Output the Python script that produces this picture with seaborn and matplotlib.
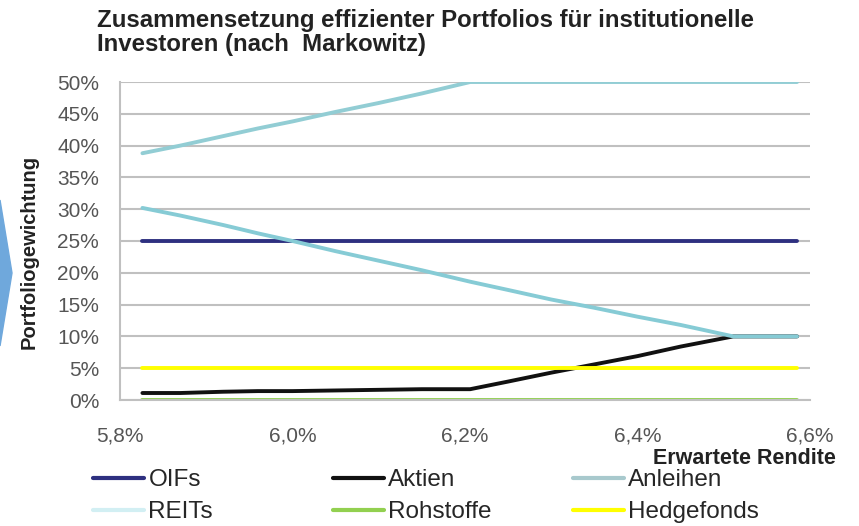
import numpy as np
import pandas as pd
import seaborn as sns
import matplotlib.pyplot as plt
from matplotlib.lines import Line2D
from matplotlib.patches import Polygon

# Data (expected return in %, weights in %)
rendite = [5.826, 5.87, 5.92, 5.96, 6.00, 6.05, 6.10, 6.15, 6.206,
           6.25, 6.30, 6.35, 6.40, 6.45, 6.511, 6.55, 6.585]
oifs = [25] * 17
aktien = [1.1, 1.1, 1.3, 1.4, 1.4, 1.5, 1.6, 1.7, 1.7,
          2.9, 4.3, 5.6, 6.9, 8.4, 10.0, 10.0, 10.0]
anleihen = [38.8, 40.0, 41.5, 42.7, 43.8, 45.3, 46.7, 48.2, 50.0,
            50.0, 50.0, 50.0, 50.0, 50.0, 50.0, 50.0, 50.0]
reits = [30.2, 29.0, 27.5, 26.2, 25.0, 23.4, 21.9, 20.4, 18.6,
         17.3, 15.8, 14.5, 13.1, 11.8, 10.0, 10.0, 10.0]
rohstoffe = [0] * 17
hedgefonds = [5] * 17

series = {"OIFs": oifs, "Aktien": aktien, "Anleihen": anleihen,
          "REITs": reits, "Rohstoffe": rohstoffe, "Hedgefonds": hedgefonds}
line_colors = {"OIFs": "#2E3080", "Aktien": "#111111", "Anleihen": "#92CDD4",
               "REITs": "#86CBD5", "Rohstoffe": "#92D050", "Hedgefonds": "#FFFF00"}
legend_colors = {"OIFs": "#2E3080", "Aktien": "#111111", "Anleihen": "#A8C9CD",
                 "REITs": "#D2EFF3", "Rohstoffe": "#92D050", "Hedgefonds": "#FFFF00"}
draw_order = ["Aktien", "Rohstoffe", "Hedgefonds", "OIFs", "REITs", "Anleihen"]

xticks = [5.8, 6.0, 6.2, 6.4, 6.6]
xtick_labels = ["5,8%", "6,0%", "6,2%", "6,4%", "6,6%"]
yticks = [0, 5, 10, 15, 20, 25, 30, 35, 40, 45, 50]
ytick_labels = [f"{v}%" for v in yticks]

df = pd.DataFrame([(name, x, y) for name, vals in series.items()
                   for x, y in zip(rendite, vals)],
                  columns=["Anlage", "Rendite", "Gewicht"])

sns.set_style("white")
plt.rcParams["font.family"] = ["Liberation Sans", "DejaVu Sans"]

fig = plt.figure(figsize=(8.59, 5.26), dpi=100)
ax = fig.add_axes([120 / 859, 1 - 400 / 526, 690 / 859, 318 / 526])

sns.lineplot(data=df, x="Rendite", y="Gewicht", hue="Anlage",
             hue_order=draw_order, palette=line_colors, linewidth=2.8,
             estimator=None, sort=False, legend=False, ax=ax)

ax.set_xlim(5.8, 6.6)
ax.set_ylim(0, 50)
ax.set_xticks(xticks)
ax.set_xticklabels(xtick_labels)
ax.set_yticks(yticks)
ax.set_yticklabels(ytick_labels)
ax.yaxis.grid(True, color="#C0C0C0", linewidth=1.5)
ax.set_axisbelow(True)
for s in ["top", "right"]:
    ax.spines[s].set_visible(False)
for s in ["left", "bottom"]:
    ax.spines[s].set_color("#C0C0C0")
    ax.spines[s].set_linewidth(1.5)
ax.tick_params(axis="both", colors="#C0C0C0", width=1.5, length=7,
               labelcolor="#555555", labelsize=15)
ax.tick_params(axis="x", pad=12)
ax.tick_params(axis="y", pad=8)

ax.set_xlabel("")
ax.set_ylabel("Portfoliogewichtung", fontsize=14.5, fontweight="bold",
              color="#222222")
ax.yaxis.set_label_coords(-0.118, 0.465)

fig.text(97 / 859, 1 - 9 / 526,
         "Zusammensetzung effizienter Portfolios für institutionelle\nInvestoren (nach  Markowitz)",
         ha="left", va="top", fontsize=17.3, fontweight="bold",
         color="#222222", linespacing=1.08)
fig.text(836 / 859, 1 - 459 / 526, "Erwartete Rendite", ha="right",
         va="center", fontsize=15.5, fontweight="bold", color="#222222")

# decorative chevron at the left edge
fig.patches.append(Polygon([(0, 1 - 200 / 526), (12 / 859, 1 - 273 / 526),
                            (0, 1 - 346 / 526)], closed=True,
                           transform=fig.transFigure, color="#6FA8DC"))

# legend: three columns, two rows
columns = [["OIFs", "REITs"], ["Aktien", "Rohstoffe"], ["Anleihen", "Hedgefonds"]]
col_x = [93, 333, 573]
for names, cx in zip(columns, col_x):
    handles = [Line2D([], [], color=legend_colors[n], linewidth=3) for n in names]
    fig.legend(handles, names, loc="upper left",
               bbox_to_anchor=(cx / 859, 1 - 469 / 526), frameon=False,
               fontsize=17.5, handlelength=2.1, handletextpad=0.18,
               labelspacing=0.42, borderpad=0, borderaxespad=0)

fig.savefig("out.png", dpi=100)
